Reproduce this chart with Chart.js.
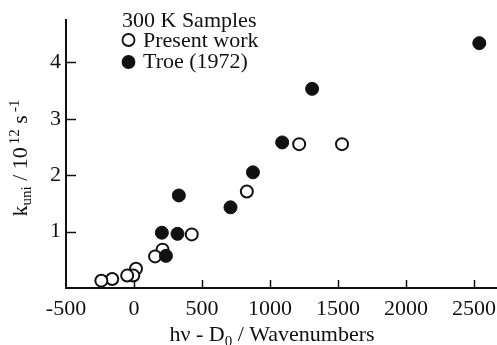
<!DOCTYPE html>
<html>
<head>
<meta charset="utf-8">
<script src="https://cdn.jsdelivr.net/npm/chart.js@4/dist/chart.umd.min.js"></script>
<style>
    html, body { margin: 0; padding: 0; background: #fff; }
    #wrap { width: 497px; height: 345px; position: relative; }
</style>
</head>
<body>
<div id="wrap"><canvas id="kuniChart"></canvas></div>
<script>
// Data
const presentX = [1215, 1530, 830, 425, 210, 155, 15, -5, -50, -160, -240];
const presentY = [2.55, 2.55, 1.71, 0.95, 0.68, 0.56, 0.34, 0.22, 0.22, 0.16, 0.13];
const troeX = [2540, 1310, 1090, 875, 710, 330, 205, 320, 235];
const troeY = [4.34, 3.53, 2.58, 2.05, 1.43, 1.64, 0.98, 0.96, 0.57];

const xTickValues = [-500, 0, 500, 1000, 1500, 2000, 2500];
const yTickValues = [1, 2, 3, 4];

const legendTitle = '300 K Samples';
const presentLabel = 'Present work';
const troeLabel = 'Troe (1972)';

const FONT = '"Liberation Serif", "Times New Roman", serif';
const INK = '#111';

function toPoints(xs, ys) {
    return xs.map((x, i) => ({ x, y: ys[i] }));
}

// draws a run of text pieces; sub/sup pieces are smaller and shifted
function drawRich(ctx, parts, size, x, y, align) {
    const widths = parts.map(p => {
        ctx.font = `${Math.round(size * (p.s || 1))}px ${FONT}`;
        return ctx.measureText(p.t).width + (p.gap || 0);
    });
    const total = widths.reduce((a, b) => a + b, 0);
    let cx = align === 'center' ? x - total / 2 : x;
    parts.forEach((p, i) => {
        ctx.font = `${Math.round(size * (p.s || 1))}px ${FONT}`;
        ctx.fillText(p.t, cx + (p.gap || 0), y + (p.dy || 0) * size);
        cx += widths[i];
    });
}

const decorPlugin = {
    id: 'decor',
    afterDraw(chart) {
        const { ctx, chartArea, scales } = chart;
        ctx.save();
        ctx.fillStyle = INK;
        ctx.strokeStyle = INK;
        ctx.textBaseline = 'alphabetic';
        ctx.textAlign = 'left';

        // inward tick marks
        ctx.lineWidth = 1.5;
        yTickValues.forEach(v => {
            const py = Math.round(scales.y.getPixelForValue(v)) + 0.5;
            ctx.beginPath();
            ctx.moveTo(chartArea.left, py);
            ctx.lineTo(chartArea.left + 10, py);
            ctx.stroke();
        });
        xTickValues.filter(v => v > scales.x.min).forEach(v => {
            const px = Math.round(scales.x.getPixelForValue(v)) + 0.5;
            ctx.beginPath();
            ctx.moveTo(px, chartArea.bottom);
            ctx.lineTo(px, chartArea.bottom - 8);
            ctx.stroke();
        });

        // axis titles
        drawRich(ctx, [
            { t: 'hν - D' },
            { t: '0', s: 0.7, dy: 0.22 },
            { t: ' / Wavenumbers' }
        ], 22, 272, 341, 'center');

        ctx.save();
        ctx.translate(27, (chartArea.top + chartArea.bottom) / 2 + 4);
        ctx.rotate(-Math.PI / 2);
        drawRich(ctx, [
            { t: 'k' },
            { t: 'uni', s: 0.7, dy: 0.2 },
            { t: ' / 10' },
            { t: '12', s: 0.7, dy: -0.38, gap: 3 },
            { t: ' s' },
            { t: '-1', s: 0.7, dy: -0.38, gap: 3 }
        ], 22, 0, 0, 'center');
        ctx.restore();

        // legend
        ctx.font = `22px ${FONT}`;
        ctx.fillText(legendTitle, 122, 27);
        const ds = chart.data.datasets;
        const rows = [
            { d: ds[1], label: presentLabel, my: 40, ty: 47 },
            { d: ds[0], label: troeLabel, my: 62, ty: 68 }
        ];
        rows.forEach(r => {
            ctx.beginPath();
            ctx.arc(128.5, r.my, 6, 0, Math.PI * 2);
            ctx.fillStyle = r.d.backgroundColor;
            ctx.fill();
            ctx.lineWidth = 1.8;
            ctx.strokeStyle = r.d.borderColor;
            ctx.stroke();
            ctx.fillStyle = INK;
            ctx.fillText(r.label, 143, r.ty);
        });
        ctx.restore();
    }
};

new Chart(document.getElementById('kuniChart').getContext('2d'), {
    type: 'scatter',
    data: {
        datasets: [
            {
                label: troeLabel,
                data: toPoints(troeX, troeY),
                backgroundColor: INK,
                borderColor: INK,
                borderWidth: 1,
                pointRadius: 6.5,
            },
            {
                label: presentLabel,
                data: toPoints(presentX, presentY),
                backgroundColor: '#fff',
                borderColor: INK,
                borderWidth: 2,
                pointRadius: 6,
            },
        ],
    },
    options: {
        responsive: true,
        maintainAspectRatio: false,
        animation: false,
        layout: { autoPadding: false, padding: { top: 20, right: 0, left: 0, bottom: 0 } },
        plugins: {
            legend: { display: false },
            tooltip: { enabled: false },
        },
        scales: {
            x: {
                type: 'linear',
                min: -500,
                max: 2670,
                afterBuildTicks: s => { s.ticks = xTickValues.map(v => ({ value: v })); },
                afterFit: s => { s.height = 57; s.paddingLeft = 0; s.paddingRight = 0; },
                grid: { display: false, drawTicks: false, tickLength: 0 },
                border: { display: true, color: INK, width: 2 },
                ticks: {
                    color: INK,
                    font: { family: FONT, size: 22 },
                    padding: 8,
                    maxRotation: 0,
                    autoSkip: false,
                    callback: v => String(v),
                },
            },
            y: {
                type: 'linear',
                min: 0,
                max: 4.75,
                afterBuildTicks: s => { s.ticks = yTickValues.map(v => ({ value: v })); },
                afterFit: s => { s.width = 66; s.paddingTop = 0; s.paddingBottom = 0; },
                grid: { display: false, drawTicks: false, tickLength: 0 },
                border: { display: true, color: INK, width: 2 },
                ticks: {
                    color: INK,
                    font: { family: FONT, size: 22 },
                    padding: 5,
                    autoSkip: false,
                    callback: v => String(v),
                },
            },
        },
    },
    plugins: [decorPlugin],
});
</script>
</body>
</html>
